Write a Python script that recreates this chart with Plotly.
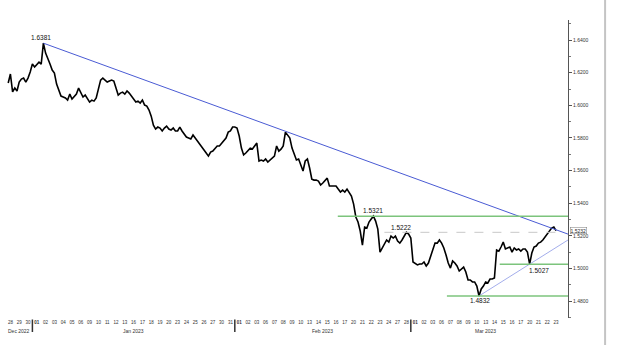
import plotly.graph_objects as go

# ---- data ----
start_day = 0.25          # first sample (trading-day index)
step_day = 0.25           # 4 samples per trading day
prices = [
    1.6137, 1.6192, 1.6082, 1.6106, 1.6088, 1.6143, 1.6161, 1.6167, 1.6143, 1.6167,
    1.6204, 1.6253, 1.6235, 1.6247, 1.6265, 1.6253, 1.6381, 1.6320, 1.6290, 1.6253,
    1.6216, 1.6198, 1.6130, 1.6088, 1.6057, 1.6051, 1.6045, 1.6032, 1.6069, 1.6039,
    1.6051, 1.6069, 1.6106, 1.6075, 1.6051, 1.6063, 1.6039, 1.6020, 1.6032, 1.6026,
    1.6045, 1.6094, 1.6155, 1.6167, 1.6155, 1.6143, 1.6149, 1.6155, 1.6149, 1.6106,
    1.6063, 1.6075, 1.6081, 1.6069, 1.6088, 1.6075, 1.6057, 1.6039, 1.6020, 1.6026,
    1.6014, 1.6032, 1.6002, 1.5996, 1.5971, 1.5934, 1.5879, 1.5855, 1.5867, 1.5861,
    1.5843, 1.5861, 1.5873, 1.5855, 1.5849, 1.5861, 1.5843, 1.5843, 1.5867, 1.5843,
    1.5824, 1.5806, 1.5800, 1.5794, 1.5818, 1.5800, 1.5781, 1.5763, 1.5751, 1.5726,
    1.5708, 1.5689, 1.5714, 1.5720, 1.5738, 1.5751, 1.5751, 1.5769, 1.5787, 1.5800,
    1.5836, 1.5843, 1.5867, 1.5867, 1.5861, 1.5812, 1.5738, 1.5696, 1.5708, 1.5726,
    1.5738, 1.5732, 1.5751, 1.5769, 1.5659, 1.5665, 1.5659, 1.5671, 1.5653, 1.5665,
    1.5671, 1.5689, 1.5751, 1.5720, 1.5732, 1.5751, 1.5836, 1.5818, 1.5800, 1.5738,
    1.5696, 1.5665, 1.5671, 1.5640, 1.5598, 1.5659, 1.5671, 1.5616, 1.5548, 1.5542,
    1.5542, 1.5536, 1.5512, 1.5524, 1.5536, 1.5554, 1.5506, 1.5506, 1.5506, 1.5506,
    1.5487, 1.5469, 1.5481, 1.5469, 1.5487, 1.5463, 1.5444, 1.5395, 1.5316, 1.5285,
    1.5230, 1.5144, 1.5254, 1.5248, 1.5285, 1.5303, 1.5321, 1.5291, 1.5242, 1.5101,
    1.5126, 1.5150, 1.5175, 1.5162, 1.5199, 1.5187, 1.5199, 1.5169, 1.5156, 1.5175,
    1.5199, 1.5222, 1.5211, 1.5187, 1.5040, 1.5028, 1.5022, 1.5028, 1.5028, 1.5040,
    1.5016, 1.5034, 1.5077, 1.5120, 1.5156, 1.5156, 1.5175, 1.5156, 1.5126, 1.5083,
    1.5034, 1.5003, 1.5046, 1.5034, 1.5016, 1.4985, 1.4997, 1.5009, 1.4979, 1.4930,
    1.4930, 1.4918, 1.4918, 1.4893, 1.4832, 1.4875, 1.4893, 1.4918, 1.4912, 1.4936,
    1.4936, 1.4942, 1.5114, 1.5107, 1.5132, 1.5162, 1.5120, 1.5126, 1.5132, 1.5101,
    1.5126, 1.5114, 1.5120, 1.5107, 1.5120, 1.5120, 1.5101, 1.5027, 1.5095, 1.5132,
    1.5138, 1.5156, 1.5162, 1.5175, 1.5193, 1.5205, 1.5224, 1.5248, 1.5254, 1.5232,
]
days = [start_day + step_day * i for i in range(len(prices))]

dec_labels = ["28", "29", "30"]
jan_labels = ["01", "02", "03", "04", "05", "06", "09", "10", "11", "12", "13", "16",
              "17", "18", "19", "20", "23", "24", "25", "26", "27", "30", "31"]
feb_labels = ["01", "02", "03", "06", "07", "08", "09", "10", "13", "14", "15", "16",
              "17", "20", "21", "22", "23", "24", "27", "28"]
mar_labels = ["01", "02", "03", "06", "07", "08", "09", "10", "13", "14", "15", "16",
              "17", "20", "21", "22", "23"]
month_names = ["Dec 2022", "Jan 2023", "Feb 2023", "Mar 2023"]

y_ticks = [1.48, 1.50, 1.52, 1.54, 1.56, 1.58, 1.60, 1.62, 1.64]

# marked levels
peak_label = 1.6381
res_level = 1.5321
mid_level = 1.5222
sup1_level = 1.5027
low_level = 1.4832
last_price = 1.5232
trend_end_price = 1.5211      # resistance trendline at right edge
support_end_price = 1.5175    # support trendline at right edge

# ---- build ----
x_max = 63.86
months = [dec_labels, jan_labels, feb_labels, mar_labels]
tickvals, ticktext, month_starts = [], [], []
d = 0
for lab in months:
    month_starts.append(d)
    for j, t in enumerate(lab):
        tickvals.append(d + 0.5)
        ticktext.append(f"<b>{t}</b>" if (j == 0 and d > 0) else t)
        d += 1
month_ends = month_starts[1:] + [d]

def day_of(price):
    return days[prices.index(price)]

fig = go.Figure()
fig.add_trace(go.Scatter(x=days, y=prices, mode="lines",
                         line=dict(color="#000000", width=1.6), hoverinfo="skip"))

peak_day = day_of(peak_label)
low_day = day_of(low_level)

# trendlines
fig.add_trace(go.Scatter(x=[peak_day, x_max], y=[peak_label, trend_end_price], mode="lines",
                         line=dict(color="#4a5bd4", width=1), hoverinfo="skip"))
fig.add_trace(go.Scatter(x=[low_day, x_max], y=[low_level, support_end_price], mode="lines",
                         line=dict(color="#8c98e6", width=0.8), hoverinfo="skip"))

green = "#7cc47c"
shapes = []
for lvl, x0 in [(res_level, 37.7), (sup1_level, 56.1), (low_level, 50.1)]:
    shapes.append(dict(type="line", xref="x", yref="y", x0=x0, x1=x_max, y0=lvl, y1=lvl,
                       line=dict(color=green, width=1.5)))
shapes.append(dict(type="line", xref="x", yref="y", x0=43, x1=63.3, y0=mid_level, y1=mid_level,
                   line=dict(color="#c8c8c8", width=1, dash="dash")))
for ms in month_starts[1:]:
    shapes.append(dict(type="line", xref="x", yref="paper", x0=ms, x1=ms, y0=-0.005, y1=-0.047,
                       line=dict(color="#333333", width=1.5)))
# outer frame line on the right
shapes.append(dict(type="line", xref="paper", yref="paper", x0=1.066, x1=1.066, y0=-0.1, y1=1.1,
                   line=dict(color="#c4c4c4", width=2)))

ann_font = dict(family="Liberation Sans", size=6.5, color="#111111")
annotations = [
    dict(x=peak_day, y=peak_label, text="1.6381", showarrow=False, yshift=6, xshift=-2, font=ann_font),
    dict(x=day_of(res_level), y=res_level, text="1.5321", showarrow=False, yshift=6, font=ann_font),
    dict(x=day_of(mid_level), y=mid_level, text="1.5222", showarrow=False, yshift=5, xshift=-5, font=ann_font),
    dict(x=day_of(sup1_level), y=sup1_level, text="1.5027", showarrow=False, yshift=-6, xshift=9, font=ann_font),
    dict(x=low_day, y=low_level, text="1.4832", showarrow=False, yshift=-5, xshift=1, font=ann_font),
    dict(x=x_max, y=last_price, xref="x", yref="y", text="1.5232", showarrow=False, xanchor="left",
         xshift=2, font=dict(family="Liberation Sans", size=5, color="#222222"),
         bordercolor="#777777", borderwidth=0.5, borderpad=0),
]
for name, s, e in zip(month_names, month_starts, month_ends):
    annotations.append(dict(x=(s + e) / 2, y=-0.028, xref="x", yref="paper", text=name, showarrow=False,
                            yanchor="top", font=dict(family="Liberation Sans", size=5, color="#333333")))

fig.update_layout(
    width=620, height=345,
    margin=dict(l=6, r=52, t=20, b=27),
    paper_bgcolor="white", plot_bgcolor="white",
    showlegend=False,
    shapes=shapes, annotations=annotations,
    xaxis=dict(range=[0, x_max], tickvals=tickvals, ticktext=ticktext, showgrid=False,
               zeroline=False, showline=False, ticks="", tickangle=0,
               tickfont=dict(family="Liberation Sans", size=4.5, color="#333333")),
    yaxis=dict(range=[1.4697, 1.6523], side="right", tickvals=y_ticks, tickformat=".4f",
               showgrid=False, zeroline=False, showline=True, linecolor="#555555", linewidth=1,
               ticks="outside", ticklen=3, tickcolor="#555555",
               minor=dict(dtick=0.01, ticks="outside", ticklen=2, tickcolor="#777777"),
               tickfont=dict(family="Liberation Sans", size=5, color="#333333")),
)

fig.write_html("out.html")
